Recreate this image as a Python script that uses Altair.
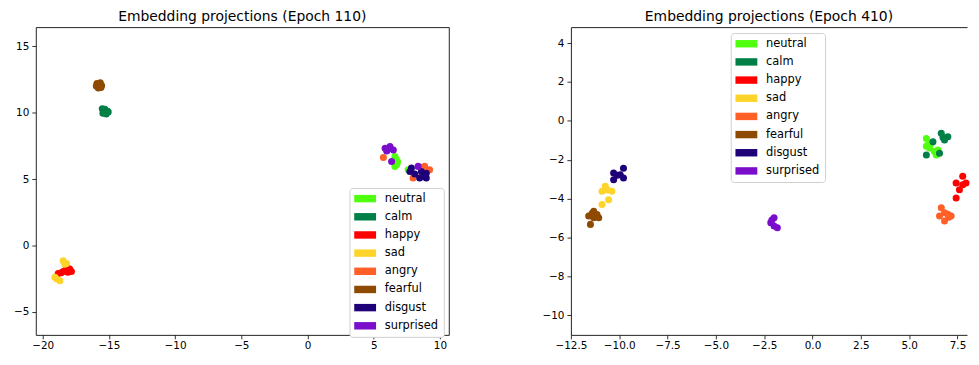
import altair as alt
import pandas as pd

classes = ["neutral", "calm", "happy", "sad", "angry", "fearful", "disgust", "surprised"]
colors = ["#50ff10", "#007f46", "#ff0000", "#ffd42a", "#ff6028", "#8e4a00", "#1e0078", "#7a0dca"]

# Epoch 110
e110_label = (["neutral"] * 6 + ["calm"] * 7 + ["happy"] * 7 + ["sad"] * 6 +
              ["angry"] * 6 + ["fearful"] * 7 + ["disgust"] * 8 + ["surprised"] * 7)
e110_x = [6.6, 6.8, 6.6, 6.75, 7.6, 6.7,
          -15.5, -15.3, -15.1, -15.45, -15.2, -15.35, -15.05,
          -18.83, -18.45, -17.96, -17.83, -18.2, -18.6, -18.1,
          -18.45, -18.33, -19.08, -18.7, -18.95, -18.2,
          5.73, 8.85, 9.22, 7.97, 8.6, 8.1,
          -15.9, -15.65, -15.55, -15.8, -15.95, -15.7, -15.6,
          7.73, 8.1, 8.6, 8.97, 8.97, 8.47, 7.85, 8.8,
          5.86, 6.23, 6.48, 5.98, 6.35, 8.35, 6.15]
e110_y = [6.7, 6.33, 5.96, 6.1, 5.7, 6.5,
          10.3, 10.25, 10.1, 9.95, 9.9, 10.05, 10.05,
          -2.1, -1.95, -1.77, -1.95, -1.6, -2.05, -2.0,
          -1.14, -1.4, -2.39, -2.64, -2.52, -1.35,
          6.63, 5.96, 5.7, 5.08, 5.9, 5.3,
          12.2, 12.25, 12.05, 11.85, 12.0, 12.05, 11.9,
          5.58, 5.38, 5.58, 5.45, 5.08, 5.08, 5.83, 5.2,
          7.32, 7.45, 7.2, 7.12, 6.33, 5.96, 7.3]

# Epoch 410
e410_label = (["neutral"] * 8 + ["calm"] * 7 + ["happy"] * 6 + ["sad"] * 6 +
              ["angry"] * 7 + ["fearful"] * 7 + ["disgust"] * 6 + ["surprised"] * 5)
e410_x = [5.89, 5.97, 5.89, 6.14, 6.4, 6.49, 6.3, 6.05,
          6.66, 7.0, 6.83, 6.23, 5.89, 6.57, 6.75,
          7.77, 7.43, 7.77, 7.94, 7.6, 7.43,
          -10.72, -10.89, -10.38, -10.55, -10.89, -10.6,
          6.66, 6.83, 6.57, 7.17, 6.83, 7.0, 7.05,
          -11.32, -11.58, -11.06, -11.49, -11.15, -11.32, -11.4,
          -9.78, -10.29, -9.95, -10.29, -9.78, -10.1,
          -1.99, -2.16, -1.99, -1.82, -2.1]
e410_y = [-0.9, -1.24, -1.3, -1.15, -1.75, -1.5, -1.58, -1.4,
          -0.64, -0.81, -0.98, -1.07, -1.75, -1.66, -0.85,
          -2.85, -3.19, -3.28, -3.19, -3.54, -3.96,
          -3.36, -3.62, -3.62, -4.05, -4.3, -3.55,
          -4.47, -4.72, -4.89, -4.89, -5.15, -4.8, -4.95,
          -4.64, -4.89, -4.98, -5.32, -4.81, -4.98, -4.75,
          -2.43, -2.68, -2.77, -3.03, -2.94, -2.8,
          -4.98, -5.23, -5.4, -5.49, -5.1]

left_xticks = [-20, -15, -10, -5, 0, 5, 10]
left_yticks = [-5, 0, 5, 10, 15]
right_xticks = [-12.5, -10.0, -7.5, -5.0, -2.5, 0.0, 2.5, 5.0, 7.5]
right_yticks = [-10, -8, -6, -4, -2, 0, 2, 4]

df110 = pd.DataFrame({"label": e110_label, "x": e110_x, "y": e110_y})
df410 = pd.DataFrame({"label": e410_label, "x": e410_x, "y": e410_y})

FONT = "DejaVu Sans"
EDGE = "#222"
PH = 310
# wide swatch drawn around an 11px symbol slot
swatch = "M-2.0,-0.68H2.0V0.68H-2.0Z"


def make_legend(lx, ly):
    return alt.Legend(
        title=None, orient="none", legendX=lx, legendY=ly,
        symbolType=swatch, symbolSize=121, symbolStrokeWidth=0, symbolOpacity=1,
        symbolOffset=5,
        labelFont=FONT, labelFontSize=11.5, labelColor="black", labelOffset=14,
        rowPadding=5.3, padding=5, strokeColor="#d0d0d0", fillColor="white",
        cornerRadius=3,
    )


def title(t):
    return alt.Title(t, font=FONT, fontSize=14, fontWeight="normal", offset=3, color="black")


color_scale = alt.Scale(domain=classes, range=colors)

left = alt.Chart(df110, title=title("Embedding projections (Epoch 110)")).mark_circle(
    size=50, opacity=1
).encode(
    x=alt.X("x:Q", scale=alt.Scale(domain=[-20.52, 10.67], nice=False, zero=False),
            axis=alt.Axis(values=left_xticks, format="d", title=None)),
    y=alt.Y("y:Q", scale=alt.Scale(domain=[-6.72, 16.44], nice=False, zero=False),
            axis=alt.Axis(values=left_yticks, title=None, minExtent=25, maxExtent=25)),
    color=alt.Color("label:N", scale=color_scale, legend=make_legend(316, 162)),
).properties(width=416, height=PH)

RW = 399
rx_max = -12.5 + RW / 19.47
rx_scale = alt.Scale(domain=[-12.5, rx_max], nice=False, zero=False)
ry_scale = alt.Scale(domain=[-11.0, 4.82], nice=False, zero=False)

right_pts = alt.Chart(df410).mark_circle(size=50, opacity=1).encode(
    x=alt.X("x:Q", scale=rx_scale,
            axis=alt.Axis(values=right_xticks, format=".1f", title=None, orient="bottom",
                          domain=True, domainColor=EDGE, domainWidth=1)),
    y=alt.Y("y:Q", scale=ry_scale,
            axis=alt.Axis(values=right_yticks, title=None, minExtent=35, maxExtent=35,
                          domain=True, domainColor=EDGE, domainWidth=1)),
    color=alt.Color("label:N", scale=color_scale, legend=make_legend(161, 6)),
)
right_top = alt.Chart(df410).mark_circle(size=50, opacity=0).encode(
    x=alt.X("x:Q", scale=rx_scale,
            axis=alt.Axis(orient="top", labels=False, ticks=False, title=None,
                          domain=True, domainColor=EDGE, domainWidth=1)),
    y=alt.Y("y:Q", scale=ry_scale),
)
right = alt.layer(right_pts, right_top, title=title("Embedding projections (Epoch 410)")).resolve_axis(
    x="independent"
).properties(
    width=RW, height=PH, view=alt.ViewBackground(stroke="transparent")
)

chart = alt.hconcat(left, right, spacing=86).resolve_scale(color="independent").resolve_legend(
    color="independent"
).properties(
    padding={"left": 2, "top": 0, "right": 0, "bottom": 0}
).configure_view(
    stroke=EDGE, strokeWidth=1
).configure_axis(
    grid=False, domain=False, tickColor="black", tickSize=4, tickWidth=0.8,
    labelFont=FONT, labelFontSize=10.5, labelColor="black", labelPadding=3,
    labelFlush=False,
).configure_axisBottom(
    labelPadding=2
)

chart.save("out.html", embed_options={"renderer": "svg", "actions": False})
